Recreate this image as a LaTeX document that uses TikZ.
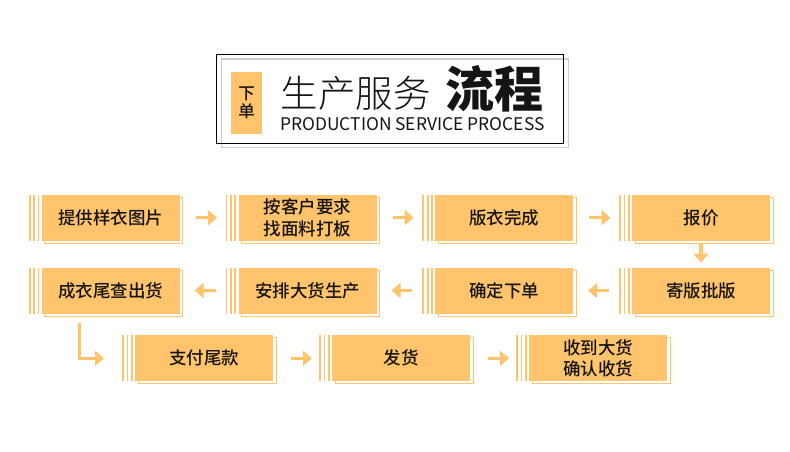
\documentclass[tikz,border=0pt]{standalone}
\usepackage{fontspec}
\usetikzlibrary{arrows.meta,shadows,calc}
\newfontfamily\cjk{Noto Sans CJK SC}
\IfFontExistsTF{Noto Sans CJK SC Light}{\newfontfamily\cjklight{Noto Sans CJK SC Light}}{%
  \IfFontExistsTF{Noto Sans CJK SC DemiLight}{\newfontfamily\cjklight{Noto Sans CJK SC DemiLight}}{\newfontfamily\cjklight{Noto Sans CJK SC}}}
\IfFontExistsTF{Noto Sans CJK SC Medium}{\newfontfamily\cjkmed{Noto Sans CJK SC Medium}}{\newfontfamily\cjkmed{Noto Sans CJK SC}}
\IfFontExistsTF{Noto Sans CJK SC Black}{\newfontfamily\cjkheavy{Noto Sans CJK SC Black}}{\newcommand\cjkheavy{\cjk\bfseries}}
\definecolor{orng}{RGB}{255,196,108}
\definecolor{txt}{RGB}{20,20,20}
\definecolor{lgray}{RGB}{204,204,204}
\tikzset{
  pbox/.style={fill=orng, minimum width=138pt, minimum height=46pt, inner sep=0pt, outer sep=0pt,
    anchor=north west, align=center, text=txt, font=\cjkmed\fontsize{17.5}{21.5}\selectfont,
    general shadow={shadow xshift=3pt, shadow yshift=-2.5pt, draw=orng, line width=1pt, fill=white}},
  stripe/.style={draw=orng, line width=1.7pt},
  arr/.style={draw=orng, line width=3.3pt, -{Triangle[length=9pt,width=15pt]}},
  ttl/.style={inner sep=0pt, outer sep=0pt, text=txt}
}
\begin{document}
\begin{tikzpicture}[x=1pt,y=-1pt]
\useasboundingbox[fill=white] (0,0) rectangle (790,452);
% title
\draw[lgray, line width=1.3pt] (221.7,59) rectangle (568.3,147.7);
\draw[black, line width=1pt] (216.7,54.3) rectangle (563.3,143.3);
\node[fill=orng, minimum width=30.7pt, minimum height=61.6pt, inner sep=0pt, anchor=north west,
  align=center, text=txt, font=\cjkmed\fontsize{16.5}{17.5}\selectfont] (tag) at (231,71.7) {下\\单};
\node[ttl, font=\cjklight\fontsize{37.5}{40}\selectfont] (t1) at (355.9,93.4) {生产服务};
\node[ttl, font=\cjkheavy\fontsize{49}{52}\selectfont] (t2) at (494,89) {流程};
\node[ttl, font=\cjk\fontsize{17.4}{18}\selectfont] (t3) at (412.5,124.5) {PRODUCTION SERVICE PROCESS};
% row 1
\node[pbox] (r1c1) at (41.7,194.7) {提供样衣图片};
\node[pbox] (r1c2) at (238.5,194.7) {按客户要求\\找面料打板};
\node[pbox] (r1c3) at (435.2,194.7) {版衣完成};
\node[pbox] (r1c4) at (632,194.7) {报价};
% row 2
\node[pbox] (r2c1) at (41.7,267.5) {成衣尾查出货};
\node[pbox] (r2c2) at (238.5,267.5) {安排大货生产};
\node[pbox] (r2c3) at (435.2,267.5) {确定下单};
\node[pbox] (r2c4) at (632,267.5) {寄版批版};
% row 3
\node[pbox] (r3c1) at (135,335.3) {支付尾款};
\node[pbox] (r3c2) at (332,335.3) {发货};
\node[pbox] (r3c3) at (529,335.3) {收到大货\\确认收货};
% stripes
\foreach \n in {r1c1,r1c2,r1c3,r1c4,r2c1,r2c2,r2c3,r2c4,r3c1,r3c2,r3c3}
  \foreach \d in {3.2,7.5,12}
    \draw[stripe] ([xshift=-\d pt]\n.north west) -- ([xshift=-\d pt]\n.south west);
% arrows row 1
\draw[arr, shorten <=16pt, shorten >=21.5pt] (r1c1.east) -- (r1c2.west);
\draw[arr, shorten <=16pt, shorten >=21.5pt] (r1c2.east) -- (r1c3.west);
\draw[arr, shorten <=16pt, shorten >=21.5pt] (r1c3.east) -- (r1c4.west);
\draw[arr, shorten <=2pt, shorten >=5pt] (r1c4.south) -- (r2c4.north);
% arrows row 2
\draw[arr, shorten <=23pt, shorten >=15pt] (r2c4.west) -- (r2c3.east);
\draw[arr, shorten <=23pt, shorten >=15pt] (r2c3.west) -- (r2c2.east);
\draw[arr, shorten <=23pt, shorten >=15pt] (r2c2.west) -- (r2c1.east);
% L arrow
\draw[arr, line width=3pt] ([xshift=38pt,yshift=-9pt]r2c1.south west) |- ([xshift=-31pt]r3c1.west);
% arrows row 3
\draw[arr, shorten <=17.5pt, shorten >=20pt] (r3c1.east) -- (r3c2.west);
\draw[arr, shorten <=17.5pt, shorten >=20pt] (r3c2.east) -- (r3c3.west);
\end{tikzpicture}
\end{document}
